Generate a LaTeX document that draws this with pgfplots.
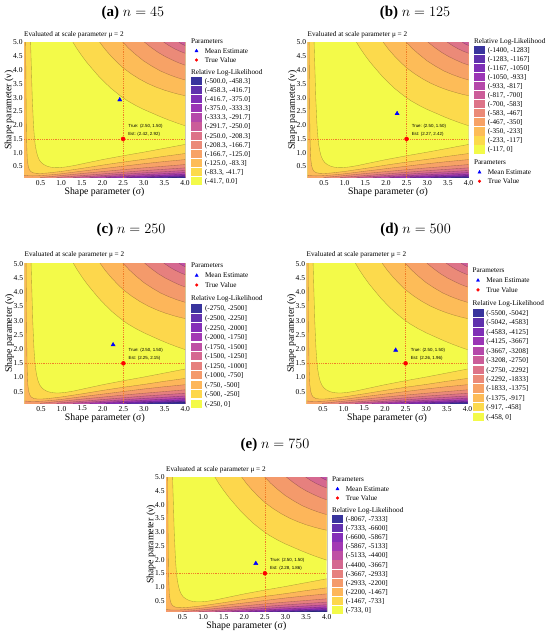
\documentclass[border=0pt]{standalone}
\usepackage{fontspec}
\setmainfont{Liberation Serif}
\newfontfamily\sansf{Liberation Sans}
\usepackage{pgfplots}
\pgfplotsset{compat=1.18}

% plasma, 12 bands (A) and 11 bands (B)
\definecolor{rA0}{HTML}{F0F921}\definecolor{rA1}{HTML}{FBD225}\definecolor{rA2}{HTML}{FCAD33}
\definecolor{rA3}{HTML}{F58D45}\definecolor{rA4}{HTML}{E7705A}\definecolor{rA5}{HTML}{D5546E}
\definecolor{rA6}{HTML}{C03A83}\definecolor{rA7}{HTML}{A52097}\definecolor{rA8}{HTML}{8509A5}
\definecolor{rA9}{HTML}{6301A6}\definecolor{rA10}{HTML}{3C049B}\definecolor{rA11}{HTML}{0D0887}
\definecolor{rB0}{HTML}{F0F921}\definecolor{rB1}{HTML}{FCCE25}\definecolor{rB2}{HTML}{FCA636}
\definecolor{rB3}{HTML}{F2844B}\definecolor{rB4}{HTML}{E16462}\definecolor{rB5}{HTML}{CC4778}
\definecolor{rB6}{HTML}{B12A90}\definecolor{rB7}{HTML}{8F0DA4}\definecolor{rB8}{HTML}{6A00A8}
\definecolor{rB9}{HTML}{41049D}\definecolor{rB10}{HTML}{0D0887}
\colorlet{pA0}{rA0!82!white}\colorlet{pA1}{rA1!82!white}\colorlet{pA2}{rA2!82!white}
\colorlet{pA3}{rA3!82!white}\colorlet{pA4}{rA4!82!white}\colorlet{pA5}{rA5!82!white}
\colorlet{pA6}{rA6!82!white}\colorlet{pA7}{rA7!82!white}\colorlet{pA8}{rA8!82!white}
\colorlet{pA9}{rA9!82!white}\colorlet{pA10}{rA10!82!white}\colorlet{pA11}{rA11!82!white}
\colorlet{pB0}{rB0!82!white}\colorlet{pB1}{rB1!82!white}\colorlet{pB2}{rB2!82!white}
\colorlet{pB3}{rB3!82!white}\colorlet{pB4}{rB4!82!white}\colorlet{pB5}{rB5!82!white}
\colorlet{pB6}{rB6!82!white}\colorlet{pB7}{rB7!82!white}\colorlet{pB8}{rB8!82!white}
\colorlet{pB9}{rB9!82!white}\colorlet{pB10}{rB10!82!white}\colorlet{pB11}{rB10!82!white}
\definecolor{dotc}{RGB}{240,125,40}

\newcommand\tickfont{\fontsize{7.5bp}{9bp}\selectfont}
\newcommand\labfont{\fontsize{9.8bp}{11bp}\selectfont}
\newcommand\legfont{\fontsize{7.2bp}{8.5bp}\selectfont}
\newcommand\evfont{\fontsize{7.2bp}{8.5bp}\selectfont}
\newcommand\annfont{\sansf\fontsize{4.4bp}{5bp}\selectfont}
\newcommand\titlefont{\fontsize{15bp}{18bp}\selectfont}

\pgfplotsset{
  cl/.style={draw=black, draw opacity=0.3, line width=0.35bp, forget plot},
  dotl/.style={draw=dotc, line width=0.5bp, dash pattern=on 0.9bp off 0.9bp, forget plot},
  swatch/.style={legend image code/.code={\path[draw=none,fill=none] (0bp,-2.5bp) -- (0bp,#1bp-2.5bp);\fill[##1] (0bp,-1.65bp) rectangle (11bp,6.55bp);}},
  ttl/.style={legend image code/.code={\path[draw=none,fill=none] (0bp,-2.5bp) -- (0bp,#1bp-2.5bp);}},
  mkleg/.style={legend image code/.code={\path[draw=none,fill=none] (0bp,-2.5bp) -- (0bp,#1bp-2.5bp);\draw[##1] plot coordinates {(5.5bp,2.45bp)};}},
  panel/.style={scale only axis, anchor=south west, clip mode=individual,
    xmin=0.1, xmax=4.0, ymin=0.1, ymax=5.0,
    xtick={0.5,1.0,1.5,2.0,2.5,3.0,3.5,4.0},
    ytick={0.5,1.0,1.5,2.0,2.5,3.0,3.5,4.0,4.5,5.0},
    major tick length=0pt,
    xticklabel style={font=\tickfont, inner sep=0pt, yshift=-2.65bp},
    yticklabel style={font=\tickfont, inner sep=0pt, xshift=-1.3bp},
    axis line style={gray!45, line width=0.4bp},
    xlabel={Shape parameter (σ)}, ylabel={Shape parameter (ν)},
    xlabel style={font=\labfont, inner sep=0pt, at={([yshift=-10.2bp]axis description cs:0.5,0)}, anchor=north},
    ylabel style={font=\labfont, inner sep=0pt, at={([xshift=-10.4bp]axis description cs:0,0.5)}, anchor=south},
    legend style={at={(1,1)}, anchor=north west, draw=none, fill=none, inner sep=0pt, outer sep=0pt,
      row sep=0pt, font=\legfont, nodes={inner sep=0pt, anchor=base west},
      /tikz/every odd column/.append style={column sep=2.8bp}},
    /pgf/number format/fixed, /pgf/number format/fixed zerofill,
    /pgf/number format/precision=1, /pgf/number format/assume math mode=true,
  }
}

\newcommand\LT[2]{\addlegendimage{ttl=#1}\addlegendentry{\rule[-2.5bp]{0pt}{#1bp}\hspace*{-13.8bp}#2}}
\newcommand\LS[3]{\addlegendimage{fill=#2, draw=none, swatch=#1}\addlegendentry{\rule[-2.5bp]{0pt}{#1bp}#3}}
\newcommand\LM[1]{\addlegendimage{only marks, mark=triangle*, blue, mark size=1.8bp, mkleg=#1}\addlegendentry{\rule[-2.5bp]{0pt}{#1bp}Mean Estimate}}
\newcommand\LR[1]{\addlegendimage{only marks, mark=*, red, mark size=1.4bp, mkleg=#1}\addlegendentry{\rule[-2.5bp]{0pt}{#1bp}True Value}}

\newcommand\contours[1]{%
\addplot[fill=#10, draw=none, forget plot] coordinates {(-0.2,-0.2)(4.3,-0.2)(4.3,5.3)(-0.2,5.3)} -- cycle;
\addplot[cl, fill=#11] coordinates {(0.25,5.3)(0.26,5.0)(0.27,4.5)(0.28,4.0)(0.29,3.5)(0.30,3.0)(0.315,2.5)(0.33,2.0)(0.35,1.6)(0.37,1.3)(0.40,1.05)(0.43,0.88)(0.47,0.74)(0.52,0.64)(0.58,0.57)(0.66,0.51)(0.75,0.475)(0.85,0.46)(0.95,0.46)(1.1,0.48)(1.3,0.53)(1.6,0.625)(2.0,0.75)(2.5,0.89)(3.0,1.02)(3.5,1.16)(4.0,1.30)(4.3,1.38)(4.3,-0.2)(-0.2,-0.2)(-0.2,5.3)} -- cycle;
\addplot[cl, fill=#11] coordinates {(1.16,5.3)(1.29,5.0)(1.38,4.78)(1.5,4.52)(1.62,4.28)(1.75,4.05)(1.9,3.79)(2.05,3.56)(2.22,3.32)(2.42,3.08)(2.6,2.89)(2.8,2.72)(3.0,2.57)(3.2,2.44)(3.4,2.31)(3.6,2.19)(3.8,2.08)(4.0,1.98)(4.3,1.84)(4.3,5.3)} -- cycle;
\addplot[cl, fill=#12] coordinates {(0.135,5.3)(0.14,5.0)(0.145,4.0)(0.15,3.0)(0.155,2.2)(0.16,1.6)(0.17,1.1)(0.18,0.75)(0.2,0.53)(0.225,0.40)(0.26,0.32)(0.32,0.27)(0.40,0.25)(0.5,0.245)(0.65,0.26)(0.8,0.285)(1.0,0.32)(1.5,0.43)(2.0,0.55)(2.5,0.66)(3.0,0.76)(3.5,0.87)(4.0,0.97)(4.3,1.03)(4.3,-0.2)(-0.2,-0.2)(-0.2,5.3)} -- cycle;
\addplot[cl, fill=#12] coordinates {(1.8,5.3)(1.94,5.0)(2.06,4.76)(2.2,4.52)(2.35,4.29)(2.5,4.08)(2.7,3.86)(2.9,3.67)(3.1,3.51)(3.3,3.38)(3.5,3.27)(3.7,3.18)(3.85,3.12)(4.0,3.07)(4.3,2.98)(4.3,5.3)} -- cycle;
\addplot[cl, fill=#13] coordinates {(-0.2,0.23)(0.1,0.18)(0.2,0.165)(0.3,0.16)(0.45,0.165)(0.6,0.18)(0.8,0.205)(1.0,0.235)(1.5,0.33)(2.0,0.42)(2.5,0.51)(3.0,0.60)(3.5,0.68)(4.0,0.75)(4.3,0.8)(4.3,-0.2)(-0.2,-0.2)} -- cycle;
\addplot[cl, fill=#13] coordinates {(2.32,5.3)(2.5,5.0)(2.65,4.77)(2.8,4.57)(3.0,4.33)(3.2,4.14)(3.4,3.97)(3.6,3.84)(3.8,3.73)(4.0,3.64)(4.3,3.52)(4.3,5.3)} -- cycle;
\addplot[cl, fill=#14] coordinates {(0.3,-0.2)(0.5,0.1)(0.75,0.135)(1.0,0.17)(1.5,0.245)(2.0,0.315)(2.5,0.385)(3.0,0.45)(3.5,0.51)(4.0,0.57)(4.3,0.6)(4.3,-0.2)} -- cycle;
\addplot[cl, fill=#14] coordinates {(2.8,5.3)(3.03,5.0)(3.18,4.82)(3.35,4.64)(3.52,4.49)(3.7,4.36)(3.85,4.26)(4.0,4.18)(4.3,4.03)(4.3,5.3)} -- cycle;
\addplot[cl, fill=#15] coordinates {(0.7,-0.2)(0.9,0.1)(1.2,0.135)(1.5,0.17)(2.0,0.23)(2.5,0.29)(3.0,0.35)(3.5,0.40)(4.0,0.45)(4.3,0.48)(4.3,-0.2)} -- cycle;
\addplot[cl, fill=#15] coordinates {(3.22,5.3)(3.5,5.0)(3.62,4.88)(3.75,4.77)(3.88,4.68)(4.0,4.61)(4.3,4.45)(4.3,5.3)} -- cycle;
\addplot[cl, fill=#16] coordinates {(1.1,-0.2)(1.3,0.1)(1.65,0.135)(2.0,0.17)(2.5,0.22)(3.0,0.27)(3.5,0.31)(4.0,0.355)(4.3,0.38)(4.3,-0.2)} -- cycle;
\addplot[cl, fill=#16] coordinates {(3.7,5.3)(3.86,5.0)(3.93,4.94)(4.0,4.89)(4.3,4.7)(4.3,5.3)} -- cycle;
\addplot[cl, fill=#17] coordinates {(1.5,-0.2)(1.7,0.1)(2.1,0.133)(2.5,0.165)(3.0,0.205)(3.5,0.24)(4.0,0.28)(4.3,0.3)(4.3,-0.2)} -- cycle;
\addplot[cl, fill=#18] coordinates {(1.9,-0.2)(2.1,0.1)(2.5,0.125)(3.0,0.155)(3.5,0.185)(4.0,0.22)(4.3,0.24)(4.3,-0.2)} -- cycle;
\addplot[cl, fill=#19] coordinates {(2.4,-0.2)(2.6,0.1)(3.3,0.135)(4.0,0.17)(4.3,0.185)(4.3,-0.2)} -- cycle;
\addplot[cl, fill=#110] coordinates {(2.9,-0.2)(3.1,0.1)(3.6,0.12)(4.0,0.135)(4.3,0.145)(4.3,-0.2)} -- cycle;
\addplot[cl, fill=#111] coordinates {(3.4,-0.2)(3.6,0.1)(4.0,0.112)(4.3,0.12)(4.3,-0.2)} -- cycle;
}

\newcommand\pmarks[3]{%
\addplot[dotl] coordinates {(2.5,0.1)(2.5,5.0)};
\addplot[dotl] coordinates {(0.1,1.5)(4.0,1.5)};
\addplot[only marks, mark=triangle*, mark size=2.4bp, blue, forget plot] coordinates {(#1,#2)};
\addplot[only marks, mark=*, mark size=2bp, red, forget plot] coordinates {(2.5,1.5)};
\node[font=\annfont, anchor=west, inner sep=0pt, xshift=5bp, yshift=13bp] at (axis cs:2.5,1.5) {True: (2.50, 1.50)};
\node[font=\annfont, anchor=west, inner sep=0pt, xshift=5bp, yshift=4.5bp] at (axis cs:2.5,1.5) {Est: (#1, #2)};
\node[font=\evfont, anchor=base west, inner sep=0pt] at ([yshift=#3bp]rel axis cs:0,1) {Evaluated at scale parameter μ = 2};
}

\begin{document}
\begin{tikzpicture}
% (a)
\begin{axis}[panel, at={(24bp,457.5bp)}, width=161bp, height=135bp, legend style={xshift=6bp, yshift=5.05bp}]
\contours{pA}
\pmarks{2.42}{2.92}{5.8}
\LT{8.5}{Parameters}\LM{10}\LR{9}\LT{12}{Relative Log-Likelihood}
\LS{9}{pA11}{(-500.0, -458.3]}
\LS{9.1}{pA10}{(-458.3, -416.7]}
\LS{9.1}{pA9}{(-416.7, -375.0]}
\LS{9.1}{pA8}{(-375.0, -333.3]}
\LS{9.1}{pA7}{(-333.3, -291.7]}
\LS{9.1}{pA6}{(-291.7, -250.0]}
\LS{9.1}{pA5}{(-250.0, -208.3]}
\LS{9.1}{pA4}{(-208.3, -166.7]}
\LS{9.1}{pA3}{(-166.7, -125.0]}
\LS{9.1}{pA2}{(-125.0, -83.3]}
\LS{9.1}{pA1}{(-83.3, -41.7]}
\LS{9.1}{pA0}{(-41.7, 0.0]}
\end{axis}
% (b)
\begin{axis}[panel, at={(307.5bp,457.5bp)}, width=161bp, height=135bp, legend style={xshift=5.5bp, yshift=5.35bp}]
\contours{pA}
\pmarks{2.27}{2.42}{5.8}
\LT{8.5}{Relative Log-Likelihood}
\LS{9.3}{pA11}{(-1400, -1283]}
\LS{9.03}{pA10}{(-1283, -1167]}
\LS{9.03}{pA9}{(-1167, -1050]}
\LS{9.03}{pA8}{(-1050, -933]}
\LS{9.03}{pA7}{(-933, -817]}
\LS{9.03}{pA6}{(-817, -700]}
\LS{9.03}{pA5}{(-700, -583]}
\LS{9.03}{pA4}{(-583, -467]}
\LS{9.03}{pA3}{(-467, -350]}
\LS{9.03}{pA2}{(-350, -233]}
\LS{9.03}{pA1}{(-233, -117]}
\LS{9.03}{pA0}{(-117, 0]}
\LT{13}{Parameters}\LM{9.7}\LR{9}
\end{axis}
% (c)
\begin{axis}[panel, at={(24.5bp,231.8bp)}, width=160.7bp, height=139.6bp, legend style={xshift=6bp, yshift=1.85bp}]
\contours{pB}
\pmarks{2.25}{2.15}{7.4}
\LT{8.5}{Parameters}\LM{10.2}\LR{9.5}\LT{13.3}{Relative Log-Likelihood}
\LS{10.2}{pB10}{(-2750, -2500]}
\LS{9.54}{pB9}{(-2500, -2250]}
\LS{9.54}{pB8}{(-2250, -2000]}
\LS{9.54}{pB7}{(-2000, -1750]}
\LS{9.54}{pB6}{(-1750, -1500]}
\LS{9.54}{pB5}{(-1500, -1250]}
\LS{9.54}{pB4}{(-1250, -1000]}
\LS{9.54}{pB3}{(-1000, -750]}
\LS{9.54}{pB2}{(-750, -500]}
\LS{9.54}{pB1}{(-500, -250]}
\LS{9.54}{pB0}{(-250, 0]}
\end{axis}
% (d)
\begin{axis}[panel, at={(306.5bp,231.8bp)}, width=161bp, height=139.6bp, legend style={xshift=5bp, yshift=-3.05bp}]
\contours{pA}
\pmarks{2.26}{1.96}{7.4}
\LT{8.5}{Parameters}\LM{10.2}\LR{9.5}\LT{13}{Relative Log-Likelihood}
\LS{10.1}{pA11}{(-5500, -5042]}
\LS{9.44}{pA10}{(-5042, -4583]}
\LS{9.44}{pA9}{(-4583, -4125]}
\LS{9.44}{pA8}{(-4125, -3667]}
\LS{9.44}{pA7}{(-3667, -3208]}
\LS{9.44}{pA6}{(-3208, -2750]}
\LS{9.44}{pA5}{(-2750, -2292]}
\LS{9.44}{pA4}{(-2292, -1833]}
\LS{9.44}{pA3}{(-1833, -1375]}
\LS{9.44}{pA2}{(-1375, -917]}
\LS{9.44}{pA1}{(-917, -458]}
\LS{9.44}{pA0}{(-458, 0]}
\end{axis}
% (e)
\begin{axis}[panel, at={(166bp,23.3bp)}, width=160.7bp, height=134.4bp, legend style={xshift=5.3bp, yshift=1.55bp}]
\contours{pB}
\pmarks{2.28}{1.86}{5.8}
\LT{8.5}{Parameters}\LM{9.7}\LR{9}\LT{12.3}{Relative Log-Likelihood}
\LS{9}{pB10}{(-8067, -7333]}
\LS{9}{pB9}{(-7333, -6600]}
\LS{9}{pB8}{(-6600, -5867]}
\LS{9}{pB7}{(-5867, -5133]}
\LS{9}{pB6}{(-5133, -4400]}
\LS{9}{pB5}{(-4400, -3667]}
\LS{9}{pB4}{(-3667, -2933]}
\LS{9}{pB3}{(-2933, -2200]}
\LS{9}{pB2}{(-2200, -1467]}
\LS{9}{pB1}{(-1467, -733]}
\LS{9}{pB0}{(-733, 0]}
\end{axis}
\begin{scope}[shift={(0bp,635bp)}, x=1bp, y=-1bp]
\node[font=\titlefont, inner sep=0pt] at (133,13.3) {\textbf{(a)} $n=45$};
\node[font=\titlefont, inner sep=0pt] at (415,13.3) {\textbf{(b)} $n=125$};
\node[font=\titlefont, inner sep=0pt] at (131,229.6) {\textbf{(c)} $n=250$};
\node[font=\titlefont, inner sep=0pt] at (415.6,229.6) {\textbf{(d)} $n=500$};
\node[font=\titlefont, inner sep=0pt] at (275,445) {\textbf{(e)} $n=750$};
\end{scope}
\pgfresetboundingbox
\path[use as bounding box] (0,0) rectangle (550bp,635bp);
\end{tikzpicture}
\end{document}
